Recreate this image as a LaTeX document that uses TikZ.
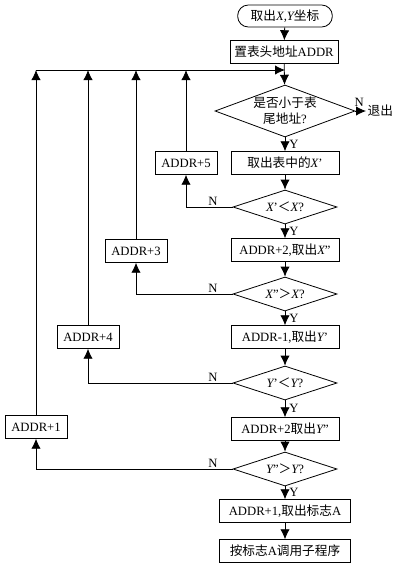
\documentclass[tikz,border=0pt]{standalone}
\usepackage{fontspec}
\setmainfont{Liberation Serif}
\newfontfamily\cjk{Noto Sans CJK SC}
\newcommand\zh[1]{{\cjk #1}}
\newcommand\va[1]{{\itshape #1}}
\usetikzlibrary{shapes,arrows.meta,positioning,calc}

\begin{document}
\begin{tikzpicture}[x=0.75pt,y=-0.75pt,line width=0.6pt,
		font=\fontsize{9.5}{11}\selectfont,
		box/.style={draw,rectangle,minimum width=81pt,minimum height=17pt,inner sep=2pt},
		wbox/.style={box,minimum width=98pt},
		side/.style={box,minimum width=46.5pt},
		start/.style={box,minimum width=71pt,minimum height=16.5pt,rounded corners=8pt},
		dec/.style={draw,diamond,aspect=3,inner sep=0pt,minimum width=78pt,minimum height=25.5pt},
		flow/.style={-{Latex[length=7.5pt,width=7pt]}},
		nlab/.style={anchor=south east,inner sep=1pt,xshift=-10pt},
		ylab/.style={right,xshift=2pt,inner sep=1pt}]
		\useasboundingbox (0,0) rectangle (410,568);

		\node[start] (begin) at (285,16) {\zh{取出}\va{X},\va{Y}\zh{坐标}};
		\node[box] (head) at (284,52) {\zh{置表头地址}ADDR};
		\node[dec,aspect=2.7,minimum width=105pt,minimum height=39pt,align=center] (end) at (285,111) {\zh{是否小于表}\\[1pt]\zh{尾地址}?};
		\node[box] (getx) at (285,163) {\zh{取出表中的}\va{X}'};
		\node[dec] (cmpx) at (285,207) {\va{X}'\zh{＜}\va{X}?};
		\node[box] (getxx) at (285,250) {ADDR+2,\zh{取出}\va{X}''};
		\node[dec] (cmpxx) at (285,294) {\va{X}''\zh{＞}\va{X}?};
		\node[box] (gety) at (285,337) {ADDR-1,\zh{取出}\va{Y}'};
		\node[dec] (cmpy) at (285,383) {\va{Y}'\zh{＜}\va{Y}?};
		\node[box] (getyy) at (285,429) {ADDR+2\zh{取出}\va{Y}''};
		\node[dec] (cmpyy) at (285,469) {\va{Y}''\zh{＞}\va{Y}?};
		\node[wbox] (getA) at (285,511) {ADDR+1,\zh{取出标志}A};
		\node[wbox] (call) at (285,551) {\zh{按标志}A\zh{调用子程序}};

		\node[side] (add5) at (186,163) {ADDR+5};
		\node[side] (add3) at (136,251) {ADDR+3};
		\node[side] (add4) at (88,337) {ADDR+4};
		\node[side] (add1) at (36,427) {ADDR+1};
		\node[anchor=west,inner sep=1pt] (quit) at (366,111) {\zh{退出}};
		\coordinate (back) at (285,70);

		\draw[flow] (begin) -- (head);
		\draw[flow] (head) -- (end);
		\draw[flow] (end.east) -- node[above,pos=0.35]{N} (quit);
		\draw[flow] (end) -- node[ylab]{Y} (getx);
		\draw[flow] (getx) -- (cmpx);
		\draw[flow] (cmpx) -- node[ylab]{Y} (getxx);
		\draw[flow] (getxx) -- (cmpxx);
		\draw[flow] (cmpxx) -- node[ylab]{Y} (gety);
		\draw[flow] (gety) -- (cmpy);
		\draw[flow] (cmpy) -- node[ylab]{Y} (getyy);
		\draw[flow] (getyy) -- (cmpyy);
		\draw[flow] (cmpyy) -- node[ylab]{Y} (getA);
		\draw[flow] (getA) -- (call);

		\draw[flow] (cmpx.west) node[nlab]{N} -| (add5);
		\draw[flow] (cmpxx.west) node[nlab]{N} -| (add3);
		\draw[flow] (cmpy.west) node[nlab]{N} -| (add4);
		\draw[flow] (cmpyy.west) node[nlab]{N} -| (add1);

		\foreach \n in {add5,add3,add4,add1}
			\draw[flow] (\n) -- (\n |- back);
		\draw[flow] (add1 |- back) -- (back);
	\end{tikzpicture}
\end{document}
